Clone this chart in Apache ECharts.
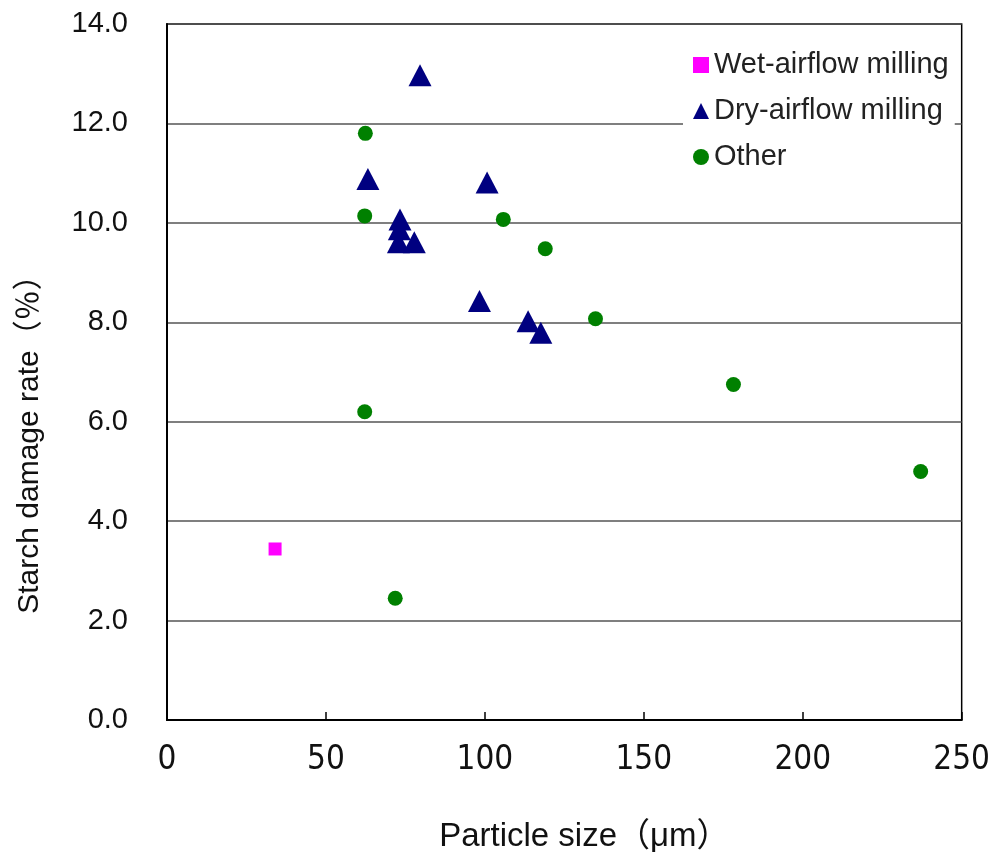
<!DOCTYPE html>
<html><head><meta charset="utf-8">
<script src="https://cdn.jsdelivr.net/npm/echarts@6/dist/echarts.min.js"></script>
<style>html,body{margin:0;padding:0;background:#fff}#c{width:993px;height:860px}</style>
</head><body><div id="c"></div>
<script>
// Series names
const seriesNames = ['Wet-airflow milling', 'Dry-airflow milling', 'Other'];
// Wet-airflow milling
const wetX = [34.0];
const wetY = [3.44];
// Dry-airflow milling
const dryX = [79.6, 63.2, 100.7, 73.3, 73.1, 72.8, 77.8, 98.3, 113.6, 117.6];
const dryY = [12.97, 10.88, 10.81, 10.07, 9.87, 9.61, 9.61, 8.43, 8.02, 7.79];
// Other
const otherX = [62.4, 62.2, 105.8, 119.0, 134.8, 178.2, 237.1, 62.2, 71.8];
const otherY = [11.8, 10.14, 10.07, 9.48, 8.07, 6.75, 5.0, 6.2, 2.45];
// Axis ticks
const xTicks = [0, 50, 100, 150, 200, 250];
const yTicks = [0, 2, 4, 6, 8, 10, 12, 14];
const xName = 'Particle size（μm）';
const yName = 'Starch damage rate（％）';

const zip = (a, b) => a.map((v, i) => [v, b[i]]);

const chart = echarts.init(document.getElementById('c'), null, {renderer: 'canvas'});
chart.setOption({
  animation: false,
  backgroundColor: '#fff',
  grid: {left: 167, right: 26, top: 24, bottom: 140, show: true, borderColor: '#000', borderWidth: 1.5},
  legend: {
    orient: 'vertical', left: 683, top: 42,
    backgroundColor: '#fff', padding: [8, 6, 8, 10],
    itemGap: 16, itemWidth: 16, itemHeight: 16,
    textStyle: {fontFamily: 'Liberation Sans, Noto Sans CJK JP', fontSize: 29, color: '#222', lineHeight: 30},
    data: [
      {name: seriesNames[0], icon: 'rect', itemStyle: {color: '#ff00ff'}},
      {name: seriesNames[1], icon: 'triangle', itemStyle: {color: '#000080'}},
      {name: seriesNames[2], icon: 'circle', itemStyle: {color: '#008000'}}
    ]
  },
  xAxis: {
    type: 'value', min: xTicks[0], max: xTicks[xTicks.length - 1], interval: 50,
    name: xName, nameLocation: 'middle', nameGap: 100,
    nameTextStyle: {fontFamily: 'Liberation Sans, Noto Sans CJK JP', fontSize: 33, color: '#111', padding: [0, 0, 0, 40]},
    axisLine: {show: true, lineStyle: {color: '#000', width: 2}},
    axisTick: {show: true, inside: true, length: 8, lineStyle: {color: '#000', width: 1.5}},
    axisLabel: {margin: 24, fontFamily: 'Liberation Sans Narrow, DejaVu Sans Condensed', fontSize: 33, color: '#111'},
    splitLine: {show: false}
  },
  yAxis: {
    type: 'value', min: yTicks[0], max: yTicks[yTicks.length - 1], interval: 2,
    name: yName, nameLocation: 'middle', nameGap: 122, nameRotate: 90,
    nameTextStyle: {fontFamily: 'Liberation Sans, Noto Sans CJK JP', fontSize: 30, color: '#111', padding: [0, 130, 0, 0]},
    axisLine: {show: true, lineStyle: {color: '#000', width: 2}},
    axisTick: {show: false},
    axisLabel: {margin: 39, fontFamily: 'Liberation Sans', fontSize: 29, color: '#111', formatter: v => v.toFixed(1)},
    splitLine: {show: true, lineStyle: {color: '#555', width: 1.5}}
  },
  series: [
    {name: seriesNames[0], type: 'scatter', symbol: 'rect', symbolSize: 13, itemStyle: {color: '#ff00ff', opacity: 1}, data: zip(wetX, wetY)},
    {name: seriesNames[1], type: 'scatter', symbol: 'triangle', symbolSize: [23, 22], itemStyle: {color: '#000080', opacity: 1}, data: zip(dryX, dryY)},
    {name: seriesNames[2], type: 'scatter', symbol: 'circle', symbolSize: 15, itemStyle: {color: '#008000', opacity: 1}, data: zip(otherX, otherY)}
  ]
});
</script></body></html>
